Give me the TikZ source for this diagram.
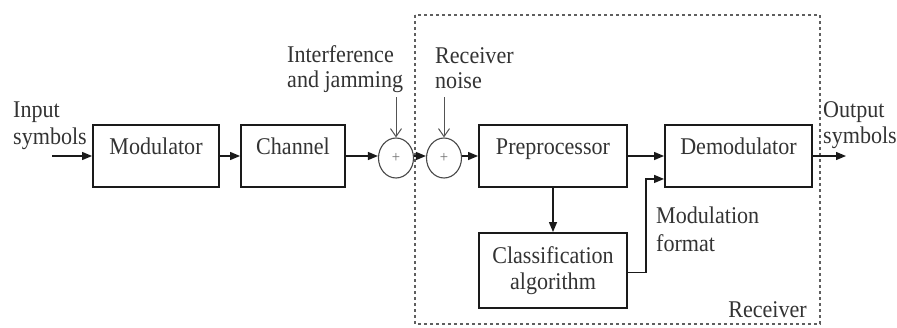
\documentclass[tikz,border=0pt]{standalone}
\usepackage{fontspec}
\setmainfont{Liberation Serif}[FakeStretch=0.92]
\usetikzlibrary{arrows.meta,shapes.geometric}
\definecolor{txt}{HTML}{333333}
\definecolor{ln}{HTML}{1a1a1a}
\tikzset{
  blk/.style={draw=ln,line width=1.9pt,rectangle,inner sep=0pt,minimum height=62pt,text=txt,text height=16pt,text depth=20pt},
  blk2/.style={draw=ln,line width=1.9pt,rectangle,inner sep=0pt,align=center,text=txt},
  sumnode/.style={draw=ln!80,line width=1.1pt,ellipse,inner sep=0pt,minimum width=35pt,minimum height=40pt,text=txt!70,font=\fontsize{16}{16}\selectfont},
  lbl/.style={inner sep=0pt,align=left,text=txt},
  flow/.style={draw=ln,line width=1.3pt,-{Triangle[length=10pt,width=8pt]}},
  noisearr/.style={draw=ln!75,line width=1pt,-{Straight Barb[length=8pt,width=11pt]}},
  rxbox/.style={draw=ln!70,line width=1.3pt,dash pattern=on 3pt off 3pt},
}
\begin{document}
\begin{tikzpicture}[x=1pt,y=-1pt,font=\fontsize{24}{26}\selectfont]
\useasboundingbox (0,0) rectangle (897,327);
% receiver dashed region
\draw[rxbox] (415,15) rectangle (820,324);
% blocks
\node[blk,minimum width=126pt] (mod) at (156,156) {Modulator};
\node[blk,minimum width=104pt] (chan) at (293,156) {Channel};
\node[sumnode] (s1) at (396,158) {+};
\node[sumnode] (s2) at (444,158) {+};
\node[blk,minimum width=148pt] (pre) at (553,156) {Preprocessor};
\node[blk,minimum width=147pt] (dem) at (738.5,156) {Demodulator};
\node[blk2,minimum width=148pt,minimum height=75pt] (cls) at (553,270.5) {Classification\\algorithm};
% labels (base = baseline of last line)
\node[lbl,anchor=base west,font=\fontsize{24}{27}\selectfont] (inlbl) at (13,144) {Input\\symbols};
\node[lbl,anchor=base west,font=\fontsize{24}{26}\selectfont] (outlbl) at (823,143) {Output\\symbols};
\node[lbl,anchor=base west,font=\fontsize{24}{24.5}\selectfont] (intf) at (287,87) {Interference\\and jamming};
\node[lbl,anchor=base west,font=\fontsize{24}{25}\selectfont] (rnoise) at (435,88) {Receiver\\noise};
\node[lbl,anchor=base west,font=\fontsize{24}{27.5}\selectfont] (mf) at (656,251) {Modulation\\format};
\node[lbl,anchor=base east] (rx) at (807,317) {Receiver};
% free ends
\coordinate (inp) at (52,156);
\coordinate (outp) at (846,156);
\coordinate (ij) at (396,97);
\coordinate (rn) at (444,97);
% connectors
\draw[flow] (inp) -- (mod.west);
\draw[flow] (mod.east) -- (chan.west);
\draw[flow] (chan.east) -- (s1.west |- chan.east);
\draw[flow] (s1.east |- chan.east) -- (s2.west |- chan.east);
\draw[flow] (s2.east |- chan.east) -- (pre.west);
\draw[flow] (pre.east) -- (dem.west);
\draw[flow] (dem.east) -- (outp);
\draw[flow] (pre.south) -- (cls.north);
\draw[flow] ([yshift=-2pt]cls.east) -- ++(18,0) |- ([yshift=9pt]dem.south west);
\draw[noisearr] (ij) -- (s1.north);
\draw[noisearr] (rn) -- (s2.north);
\end{tikzpicture}
\end{document}
